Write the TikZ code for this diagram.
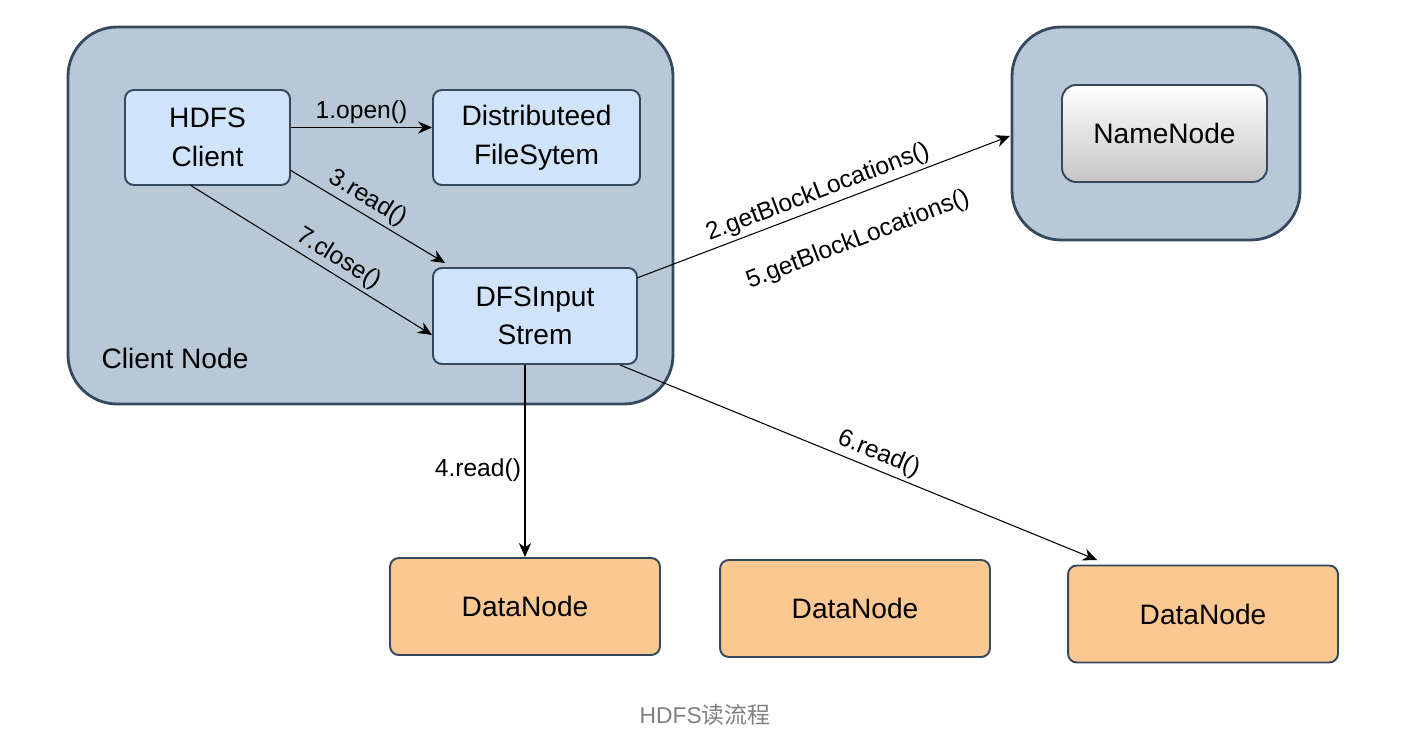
\documentclass[tikz,border=0pt]{standalone}
\usepackage{fontspec}
\setmainfont{Liberation Sans}
\newfontfamily\cjk{Noto Sans CJK SC}
\usetikzlibrary{arrows.meta}
\definecolor{boxfill}{HTML}{B9C8D6}
\definecolor{boxline}{HTML}{34495E}
\definecolor{clientfill}{HTML}{CFE4FB}
\definecolor{datafill}{HTML}{FCC891}
\begin{document}
\begin{tikzpicture}[x=0.02cm,y=-0.02cm]
\tikzset{
  group/.style={draw=boxline, line width=1.6pt, fill=boxfill, rounded corners=28pt},
  proc/.style={draw=boxline, line width=1.1pt, fill=clientfill, rounded corners=5pt, align=center, font=\fontsize{16}{22}\selectfont, inner sep=0pt},
  data/.style={draw=boxline, line width=1.1pt, fill=datafill, rounded corners=5pt, minimum width=5.4cm, minimum height=1.94cm, font=\fontsize{16}{19}\selectfont},
  steplbl/.style={font=\fontsize{14}{16}\selectfont, inner sep=2pt},
  flow/.style={-{Stealth[length=8pt,width=7pt]}, line width=0.6pt}
}
\useasboundingbox (0,0) rectangle (1420,742);
% client side
\draw[group] (68,27) rectangle (673,404);
\node[font=\fontsize{16}{19}\selectfont] (clientlbl) at (175,358) {Client Node};
\node[proc, minimum width=3.3cm, minimum height=1.9cm] (hdfs) at (207.5,137.5) {HDFS\\Client};
\node[proc, minimum width=4.14cm, minimum height=1.9cm] (dfs) at (536.5,137.5) {Distributeed\\FileSytem};
\node[proc, minimum width=4.08cm, minimum height=1.92cm] (stream) at (535,316) {DFSInput\\Strem};
% name node side
\draw[group] (1012,27) rectangle (1300,240);
\node[draw=boxline, line width=1.1pt, rounded corners=8pt, top color=white, bottom color=gray!45,
  minimum width=4.1cm, minimum height=1.94cm, font=\fontsize{16}{19}\selectfont] (name) at (1164.5,133.5) {NameNode};
% data nodes
\node[data] (dn1) at (525,606.5) {DataNode};
\node[data] (dn2) at (855,608.5) {DataNode};
\node[data] (dn3) at (1203,614) {DataNode};
% connectors
\coordinate (s3) at (290,170);
\coordinate (s7) at (190,185);
\coordinate (s2) at (637,278);
\coordinate (s6) at (620,365);
\coordinate (e3) at (445,263);
\coordinate (e7) at (432,335);
\coordinate (e2) at (1010,136);
\coordinate (e6) at (1097,560);
\draw[flow] ([yshift=0.2cm]hdfs.east) -- node[steplbl, above] {1.open()} ([yshift=0.2cm]dfs.west);
\draw[flow] (s3) -- node[steplbl, sloped, anchor=south, pos=0.45] {3.read()} (e3);
\draw[flow] (s7) -- node[steplbl, sloped, anchor=south, pos=0.58] {7.close()} (e7);
\draw[flow] (s2) -- node[steplbl, sloped, anchor=south, pos=0.5] {2.getBlockLocations()} (e2);
\node[steplbl, rotate=21] (loc5) at (858,240) {5.getBlockLocations()};
\draw[flow] (dn1.north |- stream.south) -- node[steplbl, left, pos=0.55] {4.read()} (dn1.north);
\draw[flow] (s6) -- node[steplbl, sloped, anchor=south, pos=0.53] {6.read()} (e6);
% caption
\node[text=gray, font=\fontsize{13}{15}\selectfont] (cap) at (705,715) {HDFS{\cjk 读流程}};
\end{tikzpicture}
\end{document}
